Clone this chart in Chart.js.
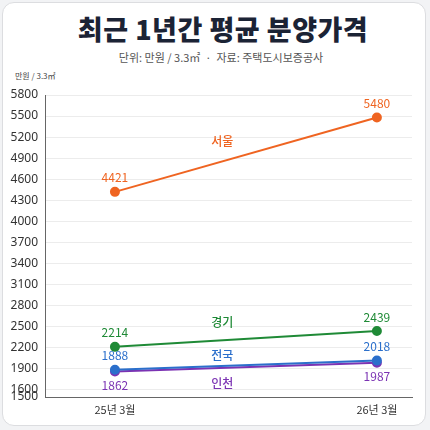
<!DOCTYPE html>
<html><head><meta charset="utf-8">
<script src="https://cdn.jsdelivr.net/npm/chart.js@4.4.1/dist/chart.umd.min.js"></script>
<style>
html,body{margin:0;padding:0;width:430px;height:430px;background:#f2f3f5;overflow:hidden;font-family:"Noto Sans CJK KR","Noto Sans",sans-serif;}
#card{position:absolute;left:2px;top:2px;width:424px;height:424px;background:#fff;border:1px solid #dcdde0;border-radius:12px;box-sizing:border-box;}
#title{position:absolute;left:8px;top:9px;width:430px;text-align:center;font-size:27px;font-weight:900;color:#1b2335;letter-spacing:0.5px;}
#sub{position:absolute;left:6px;top:49px;width:430px;text-align:center;font-size:11px;color:#555;}
#unit{position:absolute;left:15px;top:70px;font-size:8px;color:#444;}
canvas{position:absolute;left:0;top:0;}
</style></head>
<body>
<div id="card"></div>
<div id="title">최근 1년간 평균 분양가격</div>
<div id="sub">단위: 만원 / 3.3㎡ &nbsp;·&nbsp; 자료: 주택도시보증공사</div>
<div id="unit">만원 / 3.3㎡</div>
<div style="position:absolute;left:0;top:0;width:430px;height:430px;"><canvas id="c" width="430" height="430"></canvas></div>
<script>
const categories = ["25년 3월", "26년 3월"];
const seriesNames = ["서울", "경기", "전국", "인천"];
const seoul = [4421, 5480];
const gyeonggi = [2214, 2439];
const national = [1888, 2018];
const incheon = [1862, 1987];
const yTicks = [1500, 1600, 1900, 2200, 2500, 2800, 3100, 3400, 3700, 4000, 4300, 4600, 4900, 5200, 5500, 5800];

const colors = ["#ef6421", "#1f8a36", "#2b6fcb", "#7b33b3"];
const seriesData = [seoul, gyeonggi, national, incheon];
const valuePos = [[-1,-1],[-1,-1],[-1,-1],[1,1]];
const nameOffset = [-20, -18, -11, 15];

const datasets = seriesData.map((arr, i) => ({
  label: seriesNames[i],
  data: arr.map((v, j) => ({x: j, y: v})),
  borderColor: colors[i],
  backgroundColor: colors[i],
  borderWidth: 2,
  pointRadius: 4,
  pointHoverRadius: 4,
  tension: 0
}));

const labelPlugin = {
  id: 'labels',
  afterDatasetsDraw(chart) {
    const ctx = chart.ctx;
    const xs = chart.scales.x, ys = chart.scales.y;
    ctx.save();
    ctx.textAlign = 'center';
    ctx.textBaseline = 'middle';
    seriesData.forEach((arr, i) => {
      ctx.fillStyle = colors[i];
      ctx.font = '12px "Noto Sans CJK KR", "Noto Sans", sans-serif';
      arr.forEach((v, j) => {
        const px = xs.getPixelForValue(j);
        const py = ys.getPixelForValue(v);
        ctx.fillText(String(v), px, py + valuePos[i][j] * 14);
      });
      const t = 0.41;
      const midV = arr[0] + (arr[1] - arr[0]) * t;
      ctx.font = '500 12px "Noto Sans CJK KR", "Noto Sans", sans-serif';
      ctx.fillText(seriesNames[i], xs.getPixelForValue(t), ys.getPixelForValue(midV) + nameOffset[i]);
    });
    ctx.restore();
  }
};

new Chart(document.getElementById('c'), {
  type: 'line',
  data: { datasets },
  options: {
    responsive: false,
    animation: false,
    devicePixelRatio: 1,
    layout: { padding: { top: 95, right: 18, bottom: 6, left: 0 } },
    plugins: { legend: { display: false }, tooltip: { enabled: false } },
    scales: {
      x: {
        type: 'linear',
        min: -0.267, max: 1.134,
        afterBuildTicks(s) { s.ticks = [{value: 0}, {value: 1}]; },
        afterFit(s) { s.height = 27; },
        ticks: {
          callback: (v) => categories[v] ?? '',
          color: '#333', font: { size: 11, family: '"Noto Sans CJK KR", "Noto Sans", sans-serif' },
          padding: 6, maxRotation: 0
        },
        grid: { display: false, drawTicks: false },
        border: { color: '#666', width: 1 }
      },
      y: {
        type: 'linear',
        min: 1500, max: 5800,
        afterBuildTicks(s) { s.ticks = yTicks.map(v => ({value: v})); },
        afterFit(s) { s.width = 45; },
        ticks: {
          callback: (v) => String(v),
          color: '#333', font: { size: 12, family: '"Noto Sans", sans-serif' },
          padding: 7
        },
        grid: { color: '#ececec', lineWidth: 1, drawTicks: false },
        border: { color: '#666', width: 1 }
      }
    }
  },
  plugins: [labelPlugin]
});
</script>
</body></html>
